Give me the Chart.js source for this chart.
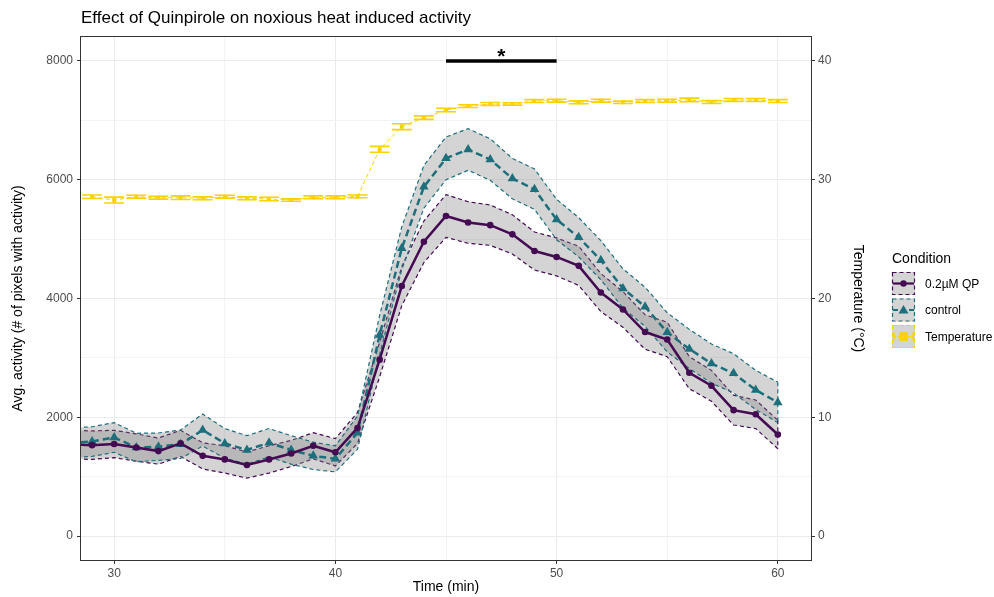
<!DOCTYPE html>
<html>
<head>
  <meta charset="utf-8">
  <title>Effect of Quinpirole on noxious heat induced activity</title>
  <script src="https://cdn.jsdelivr.net/npm/chart.js"></script>
  <style>
    body { margin: 0; background: #fff; }
    #wrap { width: 994px; height: 597px; }
  </style>
</head>
<body>
  <div id="wrap"><canvas id="myChart" width="994" height="597"></canvas></div>
  <script>
    // time points (min)
    const time = [28, 29, 30, 31, 32, 33, 34, 35, 36, 37, 38, 39, 40, 41, 42, 43, 44,
                  45, 46, 47, 48, 49, 50, 51, 52, 53, 54, 55, 56, 57, 58, 59, 60];

    // 0.2µM QP mean activity and its SE
    const qpMean = [1540, 1530, 1550, 1490, 1430, 1560, 1350, 1290, 1195, 1290, 1390, 1520, 1410, 1820, 2970, 4210, 4955,
                    5390, 5280, 5235, 5080, 4800, 4700, 4550, 4100, 3815, 3435, 3310, 2750, 2530, 2120, 2050, 1710];
    const qpSe = [240, 240, 230, 230, 220, 220, 220, 230, 220, 230, 220, 220, 230, 260, 290, 330, 350,
                  360, 350, 340, 330, 320, 320, 330, 320, 300, 290, 290, 270, 260, 250, 240, 240];

    // control mean activity and its SE
    const ctrlMean = [1570, 1590, 1660, 1490, 1505, 1545, 1785, 1560, 1450, 1570, 1450, 1350, 1300, 1740, 3385, 4845, 5880,
                      6360, 6510, 6340, 6020, 5840, 5330, 5030, 4645, 4170, 3860, 3430, 3150, 2905, 2740, 2460, 2250];
    const ctrlSe = [250, 250, 250, 240, 230, 240, 270, 250, 240, 240, 240, 230, 220, 280, 330, 360, 360,
                    360, 350, 350, 340, 340, 340, 330, 330, 330, 330, 330, 330, 330, 330, 330, 340];

    // temperature (°C) and its SE
    const tempMean = [null, 28.57, 28.29, 28.57, 28.49, 28.49, 28.44, 28.57, 28.44, 28.38, 28.29, 28.52, 28.52, 28.6, 32.56, 34.47, 35.23,
                      35.87, 36.2, 36.38, 36.38, 36.63, 36.66, 36.52, 36.66, 36.52, 36.63, 36.66, 36.72, 36.55, 36.72, 36.72, 36.63];
    const tempSe = [null, 0.15, 0.25, 0.12, 0.12, 0.15, 0.12, 0.12, 0.12, 0.15, 0.1, 0.12, 0.12, 0.12, 0.25, 0.25, 0.15,
                    0.15, 0.12, 0.12, 0.1, 0.12, 0.12, 0.12, 0.12, 0.1, 0.12, 0.12, 0.15, 0.12, 0.12, 0.12, 0.12];

    // significance bar
    const sigRange = [45, 50];
    const sigLevel = 8000;
    const sigLabel = '*';

    // axes
    const xTicks = [30, 35, 40, 45, 50, 55, 60];
    const xTickLabels = ['30', '', '40', '', '50', '', '60'];
    const yTicks = [0, 1000, 2000, 3000, 4000, 5000, 6000, 7000, 8000];
    const yTickLabels = ['0', '', '2000', '', '4000', '', '6000', '', '8000'];
    const y2Ticks = [0, 10, 20, 30, 40];
    const y2TickLabels = ['0', '10', '20', '30', '40'];

    const legendTitle = 'Condition';
    const legendLabels = ['0.2µM QP', 'control', 'Temperature'];

    const FONT = '"Liberation Sans", Arial, sans-serif';
    const purple = '#440a52';
    const teal = '#1d6f7c';
    const yellow = '#fad200';
    const ribbonGrey = 'rgba(128,128,128,0.34)';

    const pts = vals => time.map((t, i) => ({ x: t, y: vals[i] }));
    const band = (m, s, sign) => time.map((t, i) => ({ x: t, y: m[i] + sign * s[i] }));

    // draws error bars for temperature and the end edges of the ribbons
    const extrasPlugin = {
      id: 'extras',
      afterDatasetsDraw(chart) {
        const ctx = chart.ctx;
        const xs = chart.scales.x, ys = chart.scales.y, y2 = chart.scales.y2;
        const a = chart.chartArea;
        ctx.save();
        ctx.beginPath();
        ctx.rect(a.left, a.top, a.right - a.left, a.bottom - a.top);
        ctx.clip();

        // ribbon closing edges at the last time point
        const last = time.length - 1;
        [[qpMean, qpSe, purple], [ctrlMean, ctrlSe, teal]].forEach(([m, s, c]) => {
          const px = xs.getPixelForValue(time[last]);
          ctx.strokeStyle = c;
          ctx.lineWidth = 1.2;
          ctx.setLineDash([4, 3]);
          ctx.beginPath();
          ctx.moveTo(px, ys.getPixelForValue(m[last] + s[last]));
          ctx.lineTo(px, ys.getPixelForValue(m[last] - s[last]));
          ctx.stroke();
        });

        // temperature error bars
        ctx.setLineDash([]);
        ctx.strokeStyle = yellow;
        ctx.lineWidth = 1.6;
        time.forEach((t, i) => {
          if (tempMean[i] == null) return;
          const px = xs.getPixelForValue(t);
          const half = xs.getPixelForValue(t + 0.45) - px;
          const top = y2.getPixelForValue(tempMean[i] + tempSe[i]);
          const bot = y2.getPixelForValue(tempMean[i] - tempSe[i]);
          ctx.beginPath();
          ctx.moveTo(px - half, top); ctx.lineTo(px + half, top);
          ctx.moveTo(px - half, bot); ctx.lineTo(px + half, bot);
          ctx.moveTo(px, top); ctx.lineTo(px, bot);
          ctx.stroke();
        });
        ctx.restore();

        // significance star
        ctx.save();
        ctx.fillStyle = '#000';
        ctx.font = 'bold 21px ' + FONT;
        ctx.textAlign = 'center';
        ctx.textBaseline = 'alphabetic';
        ctx.fillText(sigLabel, xs.getPixelForValue((sigRange[0] + sigRange[1]) / 2), ys.getPixelForValue(sigLevel) + 2);
        ctx.restore();
      },
      afterDraw(chart) {
        const ctx = chart.ctx;
        const a = chart.chartArea;
        ctx.save();
        // panel border
        ctx.strokeStyle = '#333';
        ctx.lineWidth = 1;
        ctx.strokeRect(a.left - 0.5, a.top - 0.5, a.right - a.left + 1, a.bottom - a.top + 1);

        // title
        ctx.fillStyle = '#000';
        ctx.font = '17px ' + FONT;
        ctx.textBaseline = 'middle';
        ctx.fillText('Effect of Quinpirole on noxious heat induced activity', a.left, 18);

        // legend
        ctx.font = '14px ' + FONT;
        ctx.fillText(legendTitle, 892, 259);
        const keys = [
          { color: purple, dash: [], width: 2.2, marker: 'circle' },
          { color: teal, dash: [5, 3], width: 2.2, marker: 'triangle' },
          { color: yellow, dash: [3, 2], width: 1, marker: 'rect' }
        ];
        keys.forEach((k, i) => {
          const x0 = 892, y0 = 272 + i * 26.5, w = 23, h = 23;
          const cx = x0 + w / 2, cy = y0 + h / 2;
          ctx.fillStyle = ribbonGrey;
          ctx.fillRect(x0, y0, w, h);
          ctx.strokeStyle = k.color;
          ctx.lineWidth = 1.2;
          ctx.setLineDash([4, 3]);
          ctx.strokeRect(x0 + 0.5, y0 + 0.5, w - 1, h - 1);
          ctx.setLineDash(k.dash);
          ctx.lineWidth = k.width;
          ctx.beginPath();
          ctx.moveTo(x0 + 1, cy); ctx.lineTo(x0 + w - 1, cy);
          ctx.stroke();
          ctx.setLineDash([]);
          ctx.fillStyle = k.color;
          ctx.beginPath();
          if (k.marker === 'circle') {
            ctx.arc(cx, cy, 3.2, 0, Math.PI * 2);
          } else if (k.marker === 'triangle') {
            ctx.moveTo(cx, cy - 5); ctx.lineTo(cx + 5, cy + 3.5); ctx.lineTo(cx - 5, cy + 3.5); ctx.closePath();
          } else {
            ctx.rect(cx - 3.5, cy - 3.5, 7, 7);
            ctx.moveTo(x0 + 2, cy - 4); ctx.lineTo(x0 + 2, cy + 4);
            ctx.moveTo(x0 + w - 2, cy - 4); ctx.lineTo(x0 + w - 2, cy + 4);
          }
          ctx.fill();
          if (k.marker === 'rect') { ctx.lineWidth = 1.4; ctx.stroke(); }
          ctx.fillStyle = '#000';
          ctx.font = '12px ' + FONT;
          ctx.fillText(legendLabels[i], 925, cy + 1);
          ctx.font = '14px ' + FONT;
        });
        ctx.restore();
      }
    };

    const inPanel = ctx => (ctx.raw && ctx.raw.x >= 28.5) ? undefined : 0;

    const ctx = document.getElementById('myChart').getContext('2d');
    const chart = new Chart(ctx, {
      type: 'line',
      data: {
        datasets: [
          { data: band(qpMean, qpSe, 1), borderColor: purple, borderWidth: 1.2, borderDash: [4, 3],
            pointRadius: 0, fill: false, tension: 0, order: 5 },
          { data: band(qpMean, qpSe, -1), borderColor: purple, borderWidth: 1.2, borderDash: [4, 3],
            pointRadius: 0, fill: 0, backgroundColor: ribbonGrey, tension: 0, order: 5 },
          { data: band(ctrlMean, ctrlSe, 1), borderColor: teal, borderWidth: 1.2, borderDash: [4, 3],
            pointRadius: 0, fill: false, tension: 0, order: 4 },
          { data: band(ctrlMean, ctrlSe, -1), borderColor: teal, borderWidth: 1.2, borderDash: [4, 3],
            pointRadius: 0, fill: 2, backgroundColor: ribbonGrey, tension: 0, order: 4 },
          { label: legendLabels[0], data: pts(qpMean), borderColor: purple, backgroundColor: purple,
            borderWidth: 2.5, pointStyle: 'circle', pointRadius: c => inPanel(c) ?? 3.3, pointBorderWidth: 0,
            fill: false, tension: 0, order: 1 },
          { label: legendLabels[1], data: pts(ctrlMean), borderColor: teal, backgroundColor: teal,
            borderWidth: 2.5, borderDash: [7, 4], pointStyle: 'triangle', pointRadius: c => inPanel(c) ?? 5.5,
            pointBorderWidth: 0, fill: false, tension: 0, order: 2 },
          { label: legendLabels[2], data: pts(tempMean), yAxisID: 'y2', borderColor: yellow, backgroundColor: yellow,
            borderWidth: 1, borderDash: [4, 3], pointStyle: 'rect', pointRadius: 2.8, pointBorderWidth: 0,
            fill: false, tension: 0, spanGaps: false, order: 0 },
          { data: [{ x: sigRange[0], y: sigLevel }, { x: sigRange[1], y: sigLevel }], borderColor: '#000',
            borderWidth: 3.5, pointRadius: 0, fill: false, order: 0 }
        ]
      },
      options: {
        responsive: false,
        animation: false,
        layout: { padding: { top: 37, right: 123, left: 0, bottom: 0 } },
        plugins: { legend: { display: false }, tooltip: { enabled: false }, title: { display: false } },
        scales: {
          x: {
            type: 'linear', min: 28.5, max: 61.5,
            afterBuildTicks: s => { s.ticks = xTicks.map(v => ({ value: v })); },
            afterFit: s => { s.height = 37; },
            ticks: {
              autoSkip: false, maxRotation: 0, padding: 2, color: '#4d4d4d',
              font: { family: FONT, size: 12 },
              callback: (v) => xTickLabels[xTicks.indexOf(v)] ?? ''
            },
            grid: {
              color: c => (c.tick && c.tick.value % 10 === 0) ? '#ebebeb' : '#f3f3f3',
              tickColor: c => (c.tick && c.tick.value % 10 === 0) ? '#333' : 'rgba(0,0,0,0)',
              tickLength: 4
            },
            border: { display: false },
            title: { display: true, text: 'Time (min)', color: '#000', font: { family: FONT, size: 14 }, padding: { top: 0, bottom: 1 } }
          },
          y: {
            type: 'linear', position: 'left', min: -404, max: 8404,
            afterBuildTicks: s => { s.ticks = yTicks.map(v => ({ value: v })); },
            afterFit: s => { s.width = 81; },
            ticks: {
              padding: 4, color: '#4d4d4d', font: { family: FONT, size: 12 },
              callback: (v) => yTickLabels[yTicks.indexOf(v)] ?? ''
            },
            grid: {
              color: c => (c.tick && c.tick.value % 2000 === 0) ? '#ebebeb' : '#f3f3f3',
              tickColor: c => (c.tick && c.tick.value % 2000 === 0) ? '#333' : 'rgba(0,0,0,0)',
              tickLength: 4
            },
            border: { display: false },
            title: { display: true, text: 'Avg. activity (# of pixels with activity)', color: '#000',
                     font: { family: FONT, size: 14 }, padding: { top: 10, bottom: 0 } }
          },
          y2: {
            type: 'linear', position: 'right', min: -404 / 200, max: 8404 / 200,
            afterBuildTicks: s => { s.ticks = y2Ticks.map(v => ({ value: v })); },
            afterFit: s => { s.width = 60; },
            ticks: {
              padding: 3, color: '#4d4d4d', font: { family: FONT, size: 12 },
              callback: (v) => y2TickLabels[y2Ticks.indexOf(v)] ?? ''
            },
            grid: { drawOnChartArea: false, tickColor: '#333', tickLength: 4 },
            border: { display: false },
            title: { display: true, text: 'Temperature (°C)', color: '#000',
                     font: { family: FONT, size: 14 }, padding: { top: 5, bottom: 0 } }
          }
        }
      },
      plugins: [extrasPlugin]
    });
  </script>
</body>
</html>
